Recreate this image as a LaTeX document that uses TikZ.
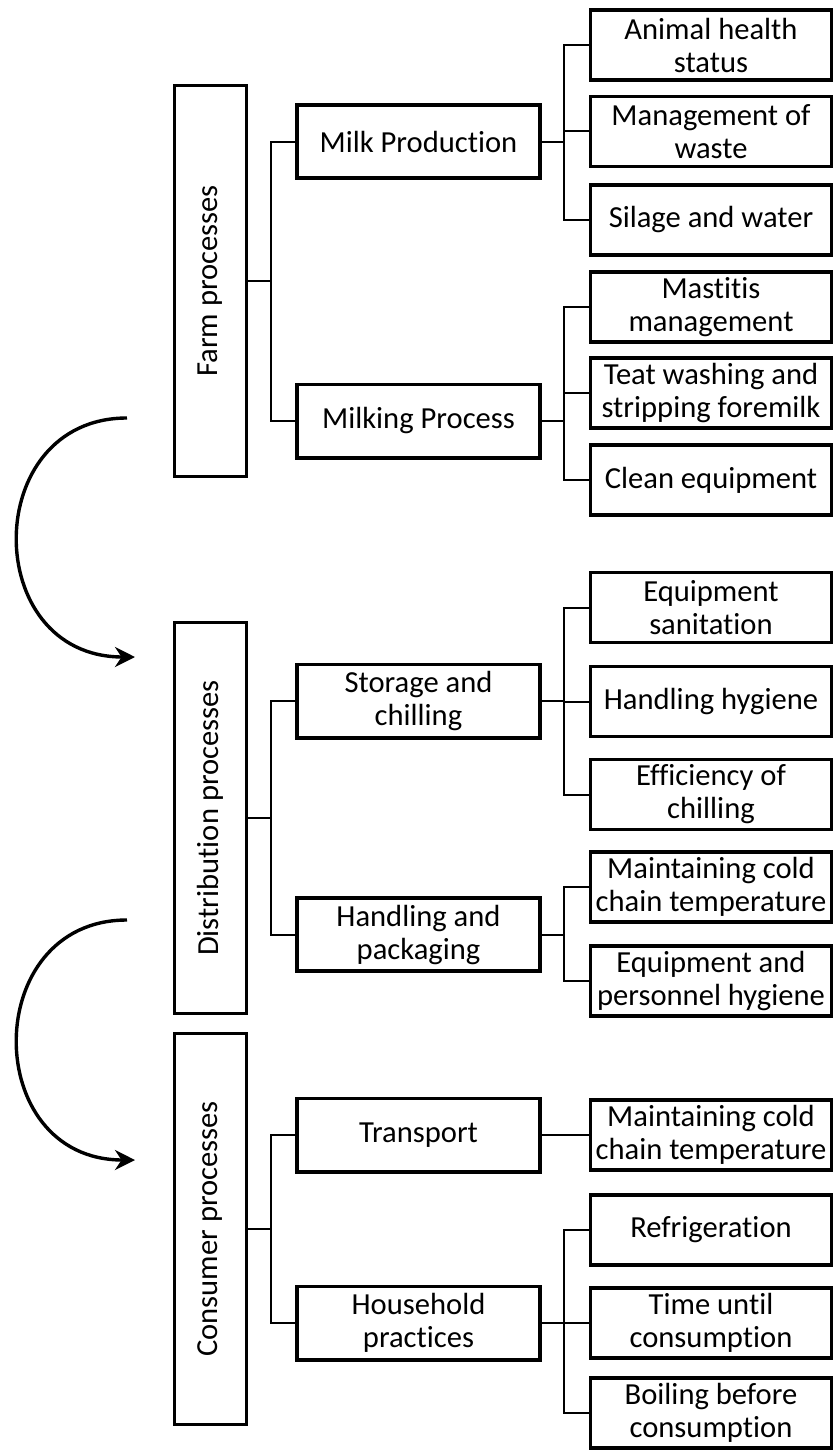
\documentclass[tikz,border=0pt]{standalone}
\usepackage{fontspec}
\usepackage{graphicx}
\setmainfont{Carlito}[Ligatures=NoCommon]
\usetikzlibrary{arrows.meta}

\begin{document}
		\begin{tikzpicture}[x=0.5pt,y=-0.5pt,
				every node/.style={font=\fontsize{15.3}{16.5}\selectfont,inner sep=0pt},
				stage/.style={draw,line width=1.6pt,minimum width=36pt,minimum height=195.5pt},
				proc/.style={draw,line width=1.9pt,align=center,minimum width=121.6pt,minimum height=36.6pt},
				factor/.style={draw,line width=1.7pt,align=center,minimum width=120.3pt,minimum height=35pt},
				link/.style={line width=1pt},
				flow/.style={line width=1.7pt,-{Stealth[length=10pt,width=10pt]}}]
			\useasboundingbox (0,0) rectangle (835,1450);
			\node[stage] (farm) at (210.5,281) {\rotatebox{90}{Farm processes}};
			\node[stage] (dist) at (210.5,818) {\rotatebox{90}{Distribution processes}};
			\node[stage] (cons) at (210.5,1229) {\rotatebox{90}{Consumer processes}};
			\node[proc] (milkprod) at (418.5,141.5) {Milk Production};
			\node[proc] (milking) at (418.5,421) {Milking Process};
			\node[proc] (storage) at (418.5,701) {Storage and\\chilling};
			\node[proc] (handpack) at (418.5,934.5) {Handling and\\packaging};
			\node[proc] (transport) at (418.5,1135) {Transport};
			\node[proc] (household) at (418.5,1323) {Household\\practices};
			\node[factor] (health) at (711,45) {Animal health\\status};
			\node[factor] (waste) at (711,131.5) {Management of\\waste};
			\node[factor] (silage) at (711,220) {Silage and water};
			\node[factor] (mastitis) at (711,307) {Mastitis\\management};
			\node[factor] (teat) at (711,393) {Teat washing and\\stripping foremilk};
			\node[factor] (clean) at (711,480) {Clean equipment};
			\node[factor] (sanit) at (711,607.5) {Equipment\\sanitation};
			\node[factor] (hyg) at (711,701.5) {Handling hygiene};
			\node[factor] (chill) at (711,794.5) {Efficiency of\\chilling};
			\node[factor] (cold) at (711,887) {Maintaining cold\\chain temperature};
			\node[factor] (staff) at (711,981) {Equipment and\\personnel hygiene};
			\node[factor] (coldtr) at (711,1135) {Maintaining cold\\chain temperature};
			\node[factor] (fridge) at (711,1230) {Refrigeration};
			\node[factor] (time) at (711,1323) {Time until\\consumption};
			\node[factor] (boil) at (711,1413) {Boiling before\\consumption};
			\draw[link] (farm.east) -- ++(11.5pt,0) |- (milkprod.west);
			\draw[link] (farm.east) -- ++(11.5pt,0) |- (milking.west);
			\draw[link] (dist.east) -- ++(11.5pt,0) |- (storage.west);
			\draw[link] (dist.east) -- ++(11.5pt,0) |- (handpack.west);
			\draw[link] (cons.east) -- ++(11.5pt,0) |- (transport.west);
			\draw[link] (cons.east) -- ++(11.5pt,0) |- (household.west);
			\draw[link] (milkprod.east) -- ++(11pt,0) |- (health.west);
			\draw[link] (milkprod.east) -- ++(11pt,0) |- (waste.west);
			\draw[link] (milkprod.east) -- ++(11pt,0) |- (silage.west);
			\draw[link] (milking.east) -- ++(11pt,0) |- (mastitis.west);
			\draw[link] (milking.east) -- ++(11pt,0) |- (teat.west);
			\draw[link] (milking.east) -- ++(11pt,0) |- (clean.west);
			\draw[link] (storage.east) -- ++(11pt,0) |- (sanit.west);
			\draw[link] (storage.east) -- ++(11pt,0) |- (hyg.west);
			\draw[link] (storage.east) -- ++(11pt,0) |- (chill.west);
			\draw[link] (handpack.east) -- ++(11pt,0) |- (cold.west);
			\draw[link] (handpack.east) -- ++(11pt,0) |- (staff.west);
			\draw[link] (transport.east) -- (coldtr.west);
			\draw[link] (household.east) -- ++(11pt,0) |- (fridge.west);
			\draw[link] (household.east) -- ++(11pt,0) |- (time.west);
			\draw[link] (household.east) -- ++(11pt,0) |- (boil.west);
			\coordinate (top1) at (127,418);
			\coordinate (end1) at (135,657);
			\coordinate (top2) at (127,920);
			\coordinate (end2) at (135,1160);
			\draw[flow] (top1) .. controls (-20,418) and (-20,657) .. (end1);
			\draw[flow] (top2) .. controls (-20,920) and (-20,1160) .. (end2);
		\end{tikzpicture}
\end{document}
